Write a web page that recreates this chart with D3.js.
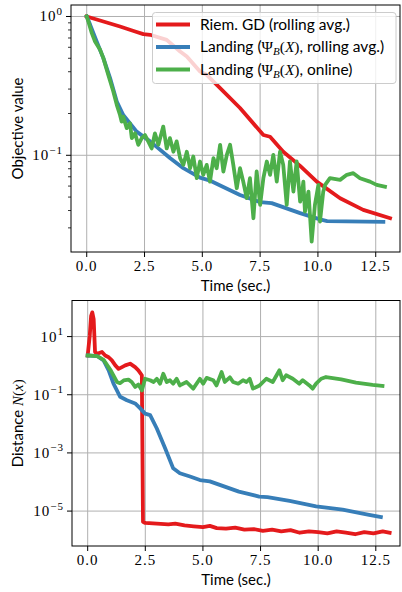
<!DOCTYPE html>
<html>
<head>
<meta charset="utf-8">
<script src="https://cdn.jsdelivr.net/npm/d3@7"></script>
<style>
  html, body { margin: 0; padding: 0; background: #fff; }
  svg { display: block; }
  .tick-lab { font-family: 'Liberation Serif', serif; font-size: 15px; letter-spacing: 1px; fill: #000; }
  .ax-lab { font-family: Lato, 'Open Sans', sans-serif; font-size: 15px; fill: #000; }
  .leg { font-family: Lato, 'Open Sans', sans-serif; font-size: 15.5px; fill: #000; }
  .math { font-family: 'Liberation Serif', serif; }
</style>
</head>
<body>
<div id="chart"></div>
<script>
// ---- data ----
const xTicks = [0, 2.5, 5, 7.5, 10, 12.5]

// top panel: objective value
const riemTimeTop = [0, 0.72, 1.44, 2.16, 2.45, 2.74, 3.46, 4.04, 4.33, 4.9, 5.19, 5.77, 6.63, 7.64, 7.93, 8.5, 9.23, 9.95, 10.96, 11.96, 13.12]
const riemObj = [1.0, 0.92, 0.847, 0.773, 0.746, 0.738, 0.679, 0.56, 0.515, 0.401, 0.38, 0.305, 0.219, 0.14, 0.136, 0.106, 0.0839, 0.0646, 0.049, 0.0404, 0.0352]

const landTimeTop = [0, 0.15, 0.43, 0.72, 1.01, 1.3, 1.58, 2.16, 2.74, 3.6, 4.18, 4.9, 5.3, 6.63, 7.5, 8.0, 9.23, 10.09, 10.4, 12.83]
const landObj = [1.0, 0.871, 0.661, 0.501, 0.36, 0.244, 0.195, 0.148, 0.126, 0.0955, 0.0807, 0.069, 0.066, 0.0518, 0.046, 0.0452, 0.0383, 0.0345, 0.0336, 0.0332]

const onlineTimeTop = [0, 0.07, 0.22, 0.36, 0.58, 0.72, 0.93, 1.15, 1.3, 1.44, 1.51, 1.58, 1.73, 1.87, 1.95, 2.09, 2.23, 2.38, 2.52, 2.66,
  2.81, 2.95, 3.1, 3.31, 3.46, 3.6, 3.75, 3.89, 4.04, 4.18, 4.33, 4.47, 4.61, 4.76, 4.9, 5.04, 5.19, 5.33, 5.48, 5.62,
  5.77, 5.91, 6.06, 6.2, 6.34, 6.49, 6.63, 6.77, 6.92, 7.06, 7.21, 7.35, 7.5, 7.64, 7.79, 7.93, 8.07, 8.22, 8.36, 8.5,
  8.65, 8.79, 8.94, 9.08, 9.23, 9.3, 9.37, 9.44, 9.59, 9.73, 9.87, 10.02, 10.09, 10.23, 10.31, 10.52, 10.96, 11.25, 11.53, 11.82,
  12.25, 12.54, 12.9]
const onlineObj = [1.0, 0.92, 0.759, 0.661, 0.575, 0.501, 0.38, 0.288, 0.231, 0.195, 0.175, 0.19, 0.157, 0.17, 0.133, 0.144, 0.119, 0.133, 0.14, 0.126,
  0.112, 0.144, 0.119, 0.161, 0.112, 0.133, 0.106, 0.126, 0.0953, 0.0853, 0.106, 0.0807, 0.098, 0.0684, 0.0902, 0.0723, 0.0853, 0.0646, 0.0953, 0.0807,
  0.119, 0.0764, 0.1007, 0.119, 0.0853, 0.0579, 0.0807, 0.0646, 0.0491, 0.0684, 0.0352, 0.0764, 0.0439, 0.0684, 0.0902, 0.0723, 0.1007, 0.0646, 0.106, 0.0853,
  0.0439, 0.0902, 0.0547, 0.0902, 0.0463, 0.0518, 0.0646, 0.0393, 0.0547, 0.0239, 0.0439, 0.0612, 0.0333, 0.0547, 0.0612, 0.0684, 0.0665, 0.0723, 0.0743, 0.0684,
  0.0646, 0.0612, 0.0594]

// bottom panel: distance N(x)
const riemTimeBot = [0, 0.09, 0.15, 0.2, 0.26, 0.32, 0.41, 0.62, 0.76, 0.91, 1.05, 1.2, 1.34, 1.49, 1.63, 1.84, 2.06, 2.2, 2.35, 2.4,
  2.5, 3.0, 3.5, 3.8, 4.2, 4.6, 5.0, 5.3, 5.6, 6.0, 6.4, 6.8, 7.2, 7.6, 8.0, 8.4, 8.8, 9.2, 9.6, 10.0,
  10.4, 10.8, 11.2, 11.6, 12.0, 12.4, 12.8, 13.1]
const riemDist = [2.24, 10.7, 52, 68, 40, 2.95, 2.57, 2.95, 2.24, 1.95, 1.51, 1.02, 0.776, 0.891, 1.02, 1.17, 0.891, 0.692, 0.468, 4.3e-6,
  3.9e-6, 3.7e-6, 3.5e-6, 3.7e-6, 3.2e-6, 3.0e-6, 2.8e-6, 3.1e-6, 2.6e-6, 2.5e-6, 2.7e-6, 2.3e-6, 2.4e-6, 2.1e-6, 2.3e-6, 2.0e-6, 2.2e-6, 1.8e-6, 2.0e-6, 1.9e-6,
  1.7e-6, 2.0e-6, 1.8e-6, 1.6e-6, 1.9e-6, 1.7e-6, 2.0e-6, 1.8e-6]

const landTimeBot = [0, 0.41, 0.69, 0.91, 1.12, 1.41, 1.7, 2.06, 2.28, 2.49, 2.71, 3.0, 3.36, 3.71, 4.0, 4.44, 4.87, 5.3, 6.56, 7.44, 7.8, 8.76, 9.91, 11.06, 12.21, 12.72]
const landDist = [2.24, 2.14, 1.51, 0.692, 0.24, 0.0851, 0.0646, 0.0501, 0.0339, 0.0224, 0.02, 0.00692, 0.00145, 2.95e-4, 2.0e-4, 1.55e-4, 1.17e-4, 1.05e-4, 4.68e-5, 3.16e-5, 3.0e-5, 2.24e-5, 1.45e-5, 1.12e-5, 7.4e-6, 6.2e-6]

const onlineTimeBot = [0, 0.41, 0.69, 1.0, 1.27, 1.4, 1.56, 1.77, 1.91, 2.06, 2.2, 2.35, 2.49, 2.71, 2.86, 3.0, 3.14, 3.28, 3.43, 3.57,
  3.71, 3.86, 4.0, 4.29, 4.58, 4.87, 5.01, 5.16, 5.45, 5.59, 5.81, 5.95, 6.17, 6.31, 6.53, 6.74, 6.89, 7.03, 7.17, 7.46,
  7.75, 8.03, 8.32, 8.46, 8.61, 8.9, 9.18, 9.33, 9.62, 9.76, 9.91, 10.13, 10.34, 11.0, 11.64, 12.36, 12.79]
const onlineDist = [2.24, 2.14, 1.58, 0.692, 0.275, 0.25, 0.309, 0.33, 0.275, 0.186, 0.224, 0.141, 0.355, 0.316, 0.275, 0.355, 0.24, 0.525, 0.275, 0.316,
  0.24, 0.355, 0.209, 0.275, 0.162, 0.355, 0.24, 0.38, 0.316, 0.209, 0.603, 0.275, 0.398, 0.275, 0.24, 0.316, 0.275, 0.355, 0.162, 0.209,
  0.355, 0.275, 0.692, 0.316, 0.468, 0.355, 0.24, 0.316, 0.209, 0.162, 0.24, 0.355, 0.407, 0.339, 0.263, 0.219, 0.2]

const labels = ['Riem. GD (rolling avg.)', 'Landing (Ψ_B(X), rolling avg.)', 'Landing (Ψ_B(X), online)']
const colors = ['#e41a1c', '#377eb8', '#4daf4a']

// ---- drawing ----
const W = 402, H = 592
const svg = d3.select('#chart').append('svg').attr('width', W).attr('height', H)

const sup = (sel, base, exp) => {
  sel.append('tspan').text(base)
  sel.append('tspan').attr('dy', -6.5).attr('font-size', 11).text(exp)
}

function panel(box, yDomain, yMajor, yMinor, series, yLabel) {
  const x = d3.scaleLinear().domain([-0.68, 13.55]).range([box.left, box.right])
  const y = d3.scaleLog().domain(yDomain).range([box.bottom, box.top])
  const g = svg.append('g')
  const id = 'clip' + Math.round(box.top)

  g.append('clipPath').attr('id', id)
    .append('rect')
    .attr('x', box.left).attr('y', box.top)
    .attr('width', box.right - box.left).attr('height', box.bottom - box.top)

  // grid
  g.append('g').selectAll('line').data(xTicks).join('line')
    .attr('x1', d => x(d)).attr('x2', d => x(d))
    .attr('y1', box.top).attr('y2', box.bottom)
    .attr('stroke', '#b0b0b0').attr('stroke-width', 1)
  g.append('g').selectAll('line').data(yMajor).join('line')
    .attr('x1', box.left).attr('x2', box.right)
    .attr('y1', d => y(d)).attr('y2', d => y(d))
    .attr('stroke', '#b0b0b0').attr('stroke-width', 1)

  // series
  const line = d3.line().x(d => x(d[0])).y(d => y(d[1]))
  g.append('g').attr('clip-path', `url(#${id})`)
    .selectAll('path').data(series).join('path')
    .attr('d', d => line(d3.zip(d.t, d.v)))
    .attr('fill', 'none')
    .attr('stroke', (d, i) => colors[i])
    .attr('stroke-width', 3.8)
    .attr('stroke-linejoin', 'round')
    .attr('stroke-linecap', 'square')

  // spines
  g.append('rect')
    .attr('x', box.left).attr('y', box.top)
    .attr('width', box.right - box.left).attr('height', box.bottom - box.top)
    .attr('fill', 'none').attr('stroke', '#000').attr('stroke-width', 1)

  // x ticks
  const xt = g.append('g').selectAll('g').data(xTicks).join('g')
  xt.append('line')
    .attr('x1', d => x(d)).attr('x2', d => x(d))
    .attr('y1', box.bottom).attr('y2', box.bottom + 5)
    .attr('stroke', '#000')
  xt.append('text').attr('class', 'tick-lab')
    .attr('x', d => x(d)).attr('y', box.bottom + 19)
    .attr('text-anchor', 'middle')
    .text(d => d.toFixed(1))

  // y ticks
  g.append('g').selectAll('line').data(yMinor).join('line')
    .attr('x1', box.left - 3).attr('x2', box.left)
    .attr('y1', d => y(d)).attr('y2', d => y(d))
    .attr('stroke', '#000').attr('stroke-width', 0.8)
  const yt = g.append('g').selectAll('g').data(yMajor).join('g')
  yt.append('line')
    .attr('x1', box.left - 5).attr('x2', box.left)
    .attr('y1', d => y(d)).attr('y2', d => y(d))
    .attr('stroke', '#000')
  yt.append('text').attr('class', 'tick-lab')
    .attr('x', box.left - 8).attr('y', d => y(d) + 5)
    .attr('text-anchor', 'end')
    .each(function (d) {
      const e = Math.round(Math.log10(d))
      sup(d3.select(this), '10', e < 0 ? '−' + (-e) : String(e))
    })

  // axis labels
  g.append('text').attr('class', 'ax-lab')
    .attr('x', (box.left + box.right) / 2).attr('y', box.bottom + 39)
    .attr('text-anchor', 'middle')
    .text('Time (sec.)')
  const yl = g.append('text').attr('class', 'ax-lab')
    .attr('transform', `translate(23,${(box.top + box.bottom) / 2}) rotate(-90)`)
    .attr('text-anchor', 'middle')
  yLabel(yl)

  return { x, y }
}

const topBox = { left: 71, right: 400, top: 5, bottom: 252 }
const botBox = { left: 72, right: 400, top: 300.5, bottom: 546 }

const topMinor = [0.03, 0.04, 0.05, 0.06, 0.07, 0.08, 0.09, 0.2, 0.3, 0.4, 0.5, 0.6, 0.7, 0.8, 0.9]

panel(topBox, [0.0201, 1.21], [1, 0.1], topMinor, [
  { t: riemTimeTop, v: riemObj },
  { t: landTimeTop, v: landObj },
  { t: onlineTimeTop, v: onlineObj }
], t => t.text('Objective value'))

panel(botBox, [6.3e-7, 174], [10, 0.1, 0.001, 0.00001], [], [
  { t: riemTimeBot, v: riemDist },
  { t: landTimeBot, v: landDist },
  { t: onlineTimeBot, v: onlineDist }
], t => {
  t.append('tspan').text('Distance ')
  t.append('tspan').attr('class', 'math').attr('font-style', 'italic').text('N')
  t.append('tspan').attr('class', 'math').text('(')
  t.append('tspan').attr('class', 'math').attr('font-style', 'italic').text('x')
  t.append('tspan').attr('class', 'math').text(')')
})

// legend (top panel)
const leg = svg.append('g')
leg.append('rect')
  .attr('x', 152.5).attr('y', 12.5).attr('width', 243.5).attr('height', 71)
  .attr('rx', 3)
  .attr('fill', '#fff').attr('fill-opacity', 0.8)
  .attr('stroke', '#cccccc').attr('stroke-width', 1)
const rows = leg.selectAll('g').data(labels).join('g')
  .attr('transform', (d, i) => `translate(0,${24.5 + i * 22.5})`)
rows.append('line')
  .attr('x1', 156).attr('x2', 190)
  .attr('stroke', (d, i) => colors[i]).attr('stroke-width', 3.8)
rows.append('text').attr('class', 'leg')
  .attr('x', 200).attr('y', 5)
  .each(function (d) {
    const t = d3.select(this)
    const m = d.match(/^(.*\()Ψ_B\(X\)(.*)$/)
    if (!m) { t.text(d); return }
    t.append('tspan').text(m[1])
    t.append('tspan').attr('class', 'math').text('Ψ')
    t.append('tspan').attr('class', 'math').attr('font-style', 'italic')
      .attr('font-size', 11).attr('dy', 3).text('B')
    t.append('tspan').attr('class', 'math').attr('dy', -3).text('(')
    t.append('tspan').attr('class', 'math').attr('font-style', 'italic').text('X')
    t.append('tspan').attr('class', 'math').text(')')
    t.append('tspan').text(m[2])
  })
</script>
</body>
</html>
